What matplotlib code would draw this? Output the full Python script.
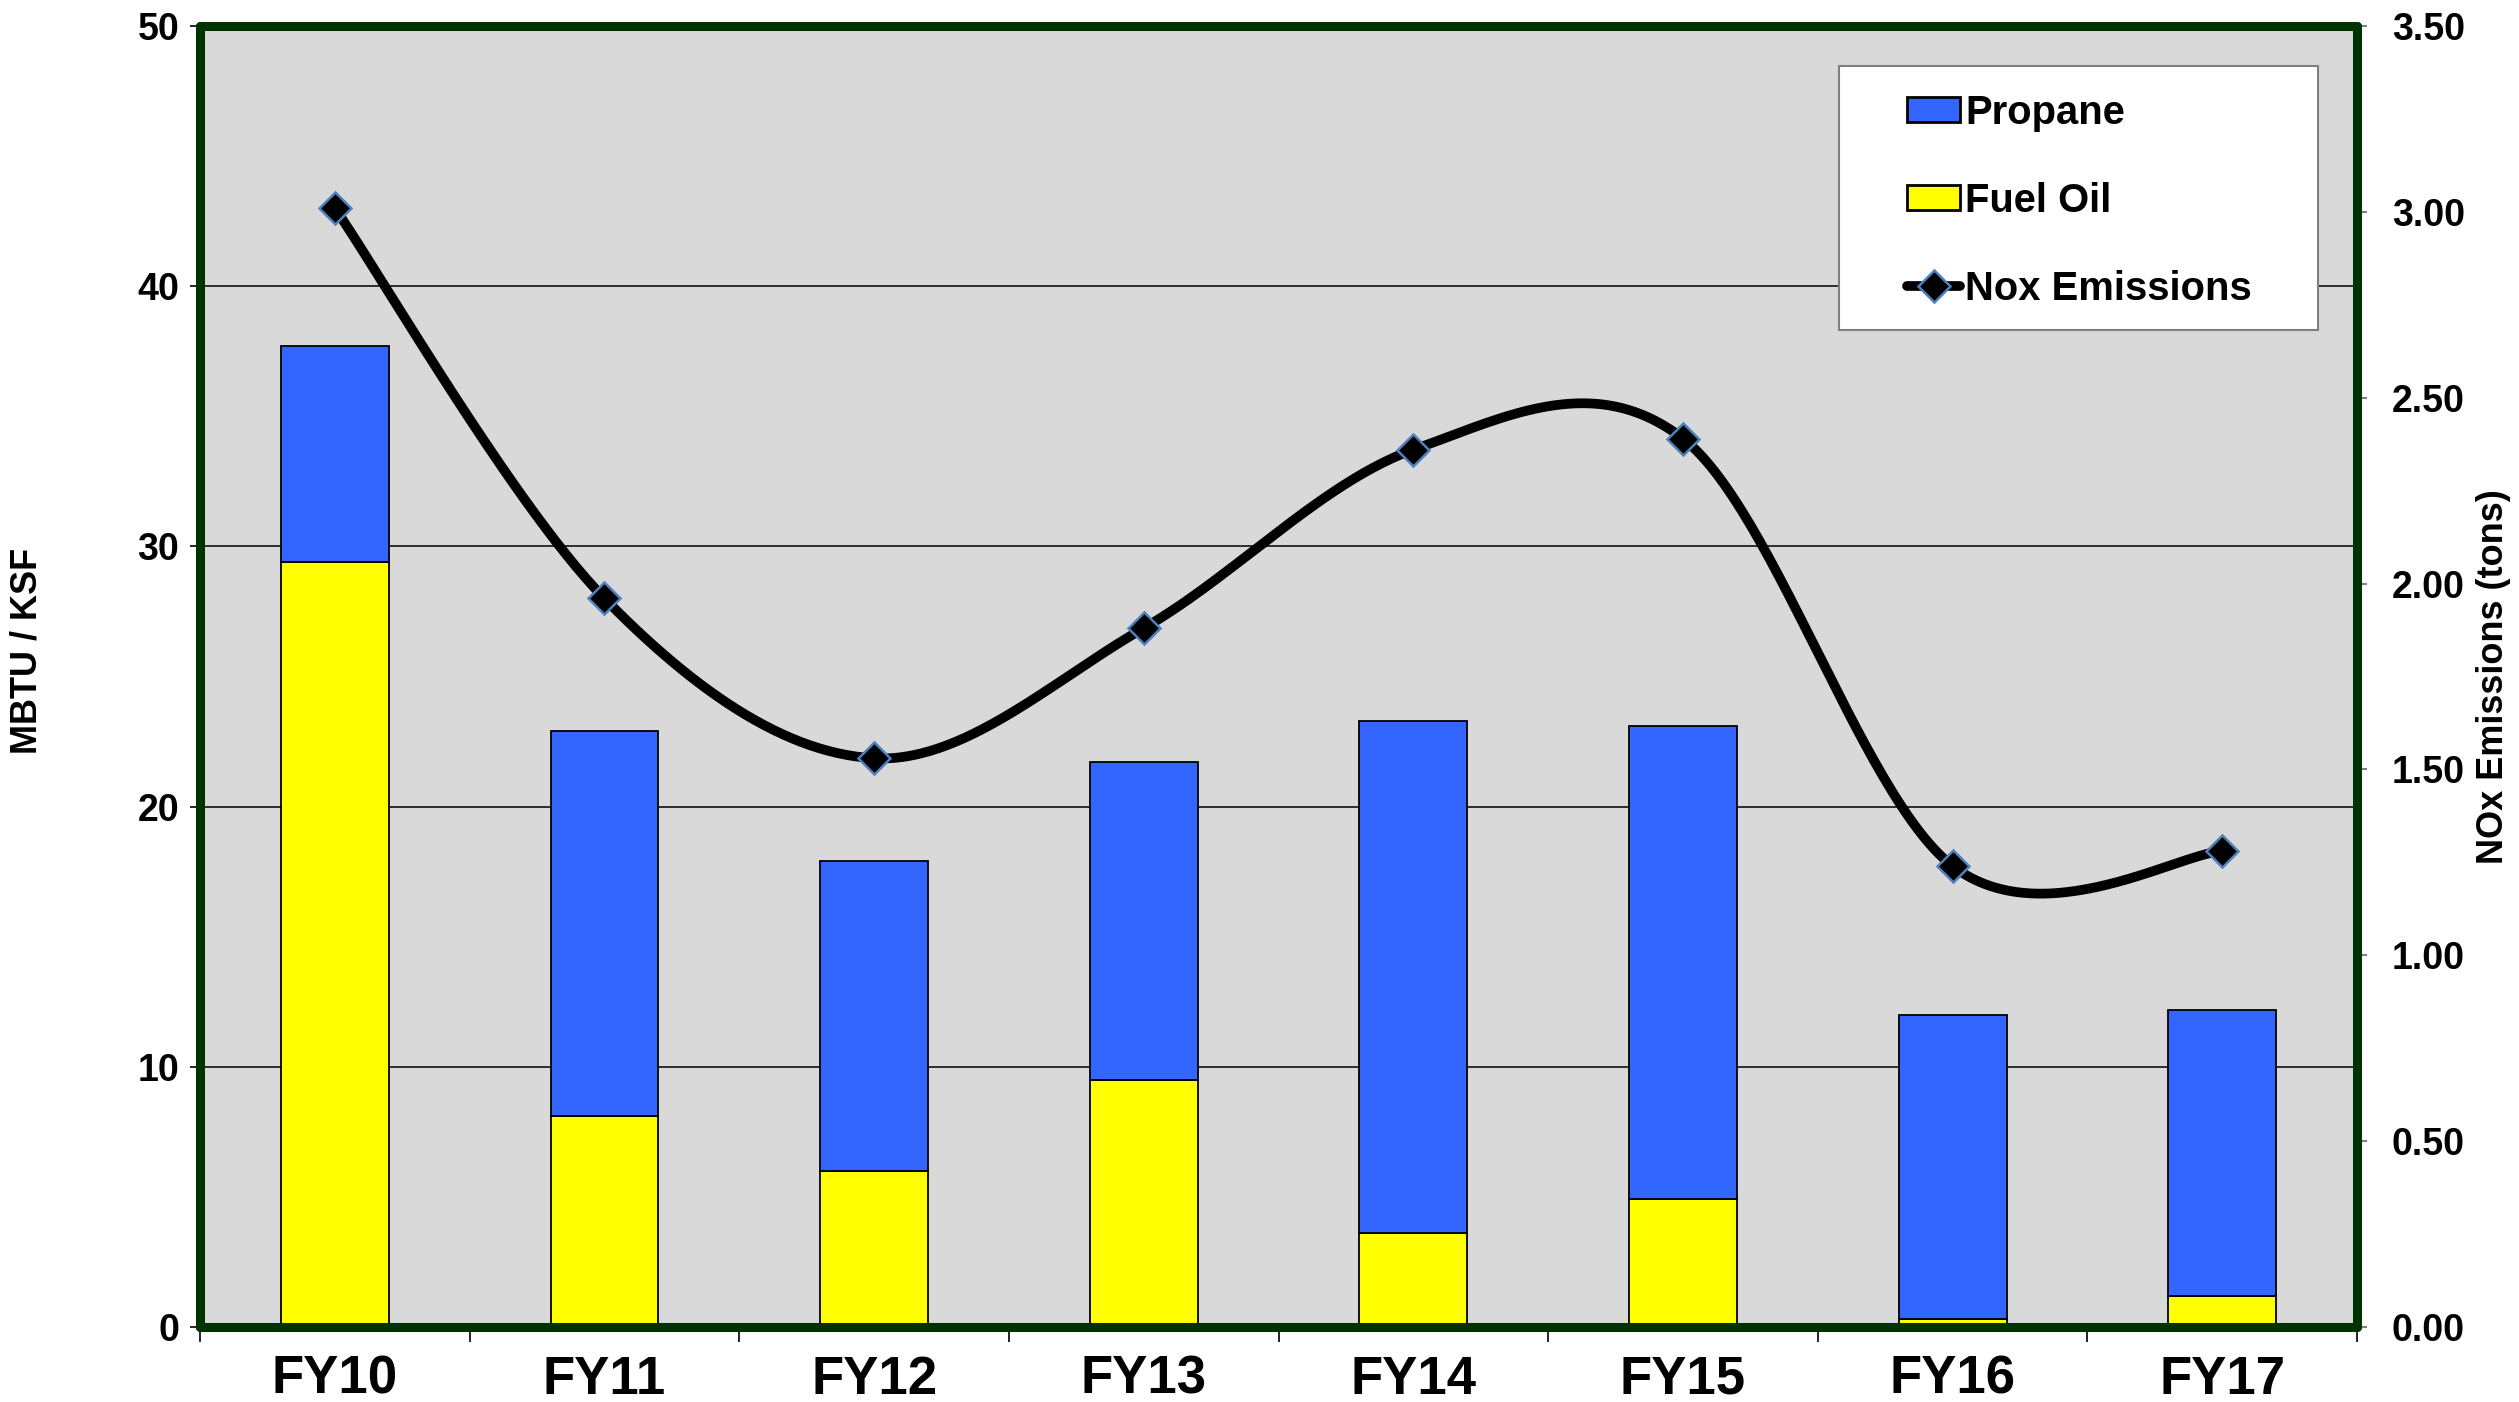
import numpy as np
import matplotlib
matplotlib.use("Agg")
import matplotlib.pyplot as plt
from matplotlib.patches import Patch, Rectangle
from matplotlib.lines import Line2D
from matplotlib.ticker import FormatStrFormatter

# ---- data ----
years = ["FY10", "FY11", "FY12", "FY13", "FY14", "FY15", "FY16", "FY17"]
fuel_oil = [29.4, 8.1, 6.0, 9.5, 3.6, 4.9, 0.3, 1.2]
propane = [8.3, 14.8, 11.9, 12.2, 19.7, 18.2, 11.7, 11.0]
nox = [3.01, 1.96, 1.53, 1.88, 2.36, 2.39, 1.24, 1.28]

left_ticks = [0, 10, 20, 30, 40, 50]
right_ticks = [0.0, 0.5, 1.0, 1.5, 2.0, 2.5, 3.0, 3.5]

plt.rcParams['font.family'] = ['Liberation Sans', 'DejaVu Sans']
plt.rcParams['font.weight'] = 'bold'

GREEN = '#003300'
BG = '#d9d9d9'
BLUE = '#3366ff'
YELLOW = '#ffff00'

fig = plt.figure(figsize=(25.19, 14.02), dpi=100)
ax = fig.add_axes([0.0794, 0.0535, 0.9357 - 0.0794, 0.9815 - 0.0535])
ax.set_facecolor(BG)

x = np.arange(len(years))
ax.bar(x, fuel_oil, width=0.4, color=YELLOW, edgecolor='black', linewidth=1.3, zorder=3)
ax.bar(x, propane, width=0.4, bottom=fuel_oil, color=BLUE, edgecolor='black', linewidth=1.3, zorder=3)

ax.set_xlim(-0.5, len(years) - 0.5)
ax.set_ylim(0, 50)
ax.set_yticks(left_ticks)
ax.yaxis.grid(True, color='black', linewidth=1.1)
ax.set_axisbelow(True)

# x ticks at category boundaries, labels at centers
ax.set_xticks(np.arange(-0.5, len(years), 1.0))
ax.set_xticklabels([])
ax.set_xticks(x, minor=True)
ax.set_xticklabels(years, minor=True, fontsize=38, fontweight='bold')
ax.tick_params(axis='x', which='minor', length=0, pad=20)
ax.tick_params(axis='x', which='major', length=11, width=1.2, color='black', direction='out')
ax.tick_params(axis='y', length=7, width=1.2, color='black', direction='out', pad=8,
               labelsize=27)
for lab in ax.get_yticklabels():
    lab.set_fontweight('bold')

ax.set_ylabel("MBTU / KSF", fontsize=26, fontweight='bold')
ax.yaxis.set_label_coords(-0.072, 0.52)

for s in ax.spines.values():
    s.set_visible(False)

# ---- secondary axis ----
ax2 = ax.twinx()
ax2.set_ylim(0, 3.5)
ax2.set_yticks(right_ticks)
ax2.yaxis.set_major_formatter(FormatStrFormatter('%.2f'))
ax2.tick_params(axis='y', length=7, width=1.5, color='#808080', direction='out', pad=18,
                labelsize=27)
for lab in ax2.get_yticklabels():
    lab.set_fontweight('bold')
ax2.set_ylabel("NOx Emissions (tons)", fontsize=26, fontweight='bold', rotation=90)
ax2.yaxis.set_label_coords(1.055, 0.5)

for s in ax2.spines.values():
    s.set_color(GREEN)
    s.set_linewidth(6.5)
    s.set_capstyle('round')
    s.set_joinstyle('round')


def smooth_curve(xv, yv, n=60):
    pts = np.column_stack([xv, yv]).astype(float)
    out = [pts[0]]
    t = np.linspace(0, 1, n)[1:, None]
    for i in range(len(pts) - 1):
        p0 = pts[i - 1] if i > 0 else pts[i]
        p1 = pts[i]
        p2 = pts[i + 1]
        p3 = pts[i + 2] if i + 2 < len(pts) else pts[i + 1]
        c1 = p1 + (p2 - p0) / 6.0
        c2 = p2 - (p3 - p1) / 6.0
        seg = ((1 - t) ** 3) * p1 + 3 * ((1 - t) ** 2) * t * c1 + 3 * (1 - t) * t ** 2 * c2 + t ** 3 * p2
        out.extend(seg)
    out = np.array(out)
    return out[:, 0], out[:, 1]


sx, sy = smooth_curve(x, nox)
ax2.plot(sx, sy, color='black', linewidth=7, solid_capstyle='round', zorder=4)
ax2.plot(x, nox, linestyle='none', marker='D', markersize=16, markerfacecolor='black',
         markeredgecolor='#4f81bd', markeredgewidth=1.8, zorder=5)

# ---- legend ----
box = Rectangle((0.760, 0.766), 0.222, 0.203, transform=ax2.transAxes,
                facecolor='white', edgecolor='#808080', linewidth=1.5, zorder=6)
ax2.add_patch(box)
handles = [
    Patch(facecolor=BLUE, edgecolor='black', linewidth=2),
    Patch(facecolor=YELLOW, edgecolor='black', linewidth=2),
    Line2D([], [], color='black', linewidth=7, solid_capstyle='round', marker='D',
           markersize=16, markerfacecolor='black', markeredgecolor='#4f81bd',
           markeredgewidth=1.8),
]
leg = ax2.legend(handles, ["Propane", "Fuel Oil", "Nox Emissions"], loc='upper left',
                 bbox_to_anchor=(0.7914, 0.948), bbox_transform=ax2.transAxes,
                 frameon=False, borderpad=0, borderaxespad=0,
                 prop={'family': 'Liberation Sans', 'weight': 'bold', 'size': 28.8},
                 handlelength=1.33, handleheight=0.6, handletextpad=0.12,
                 labelspacing=1.25)
leg.set_zorder(7)

fig.savefig("out.png", dpi=100)
